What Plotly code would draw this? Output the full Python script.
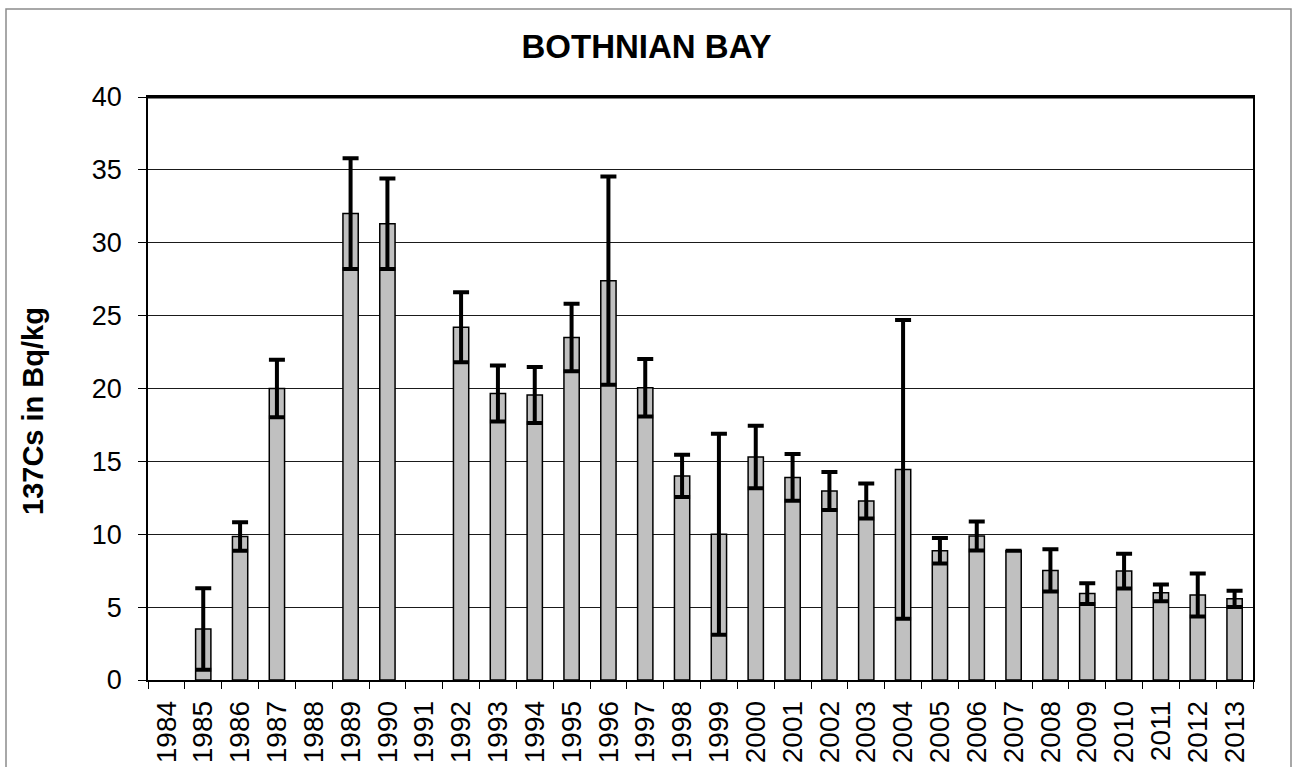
import plotly.graph_objects as go

# 137Cs activity by year, with symmetric uncertainty (None = no sample)
years = [str(y) for y in range(1984, 2014)]
values = [None, 3.5, 9.85, 20.0, None, 32.0, 31.3, None, 24.2, 19.65,
          19.55, 23.5, 27.4, 20.05, 14.0, 10.0, 15.3, 13.9, 12.97, 12.28,
          14.45, 8.87, 9.88, 8.87, 7.52, 5.93, 7.47, 5.98, 5.83, 5.57]
errors = [None, 2.8, 0.98, 1.98, None, 3.8, 3.1, None, 2.4, 1.92,
          1.92, 2.32, 7.15, 1.97, 1.45, 6.9, 2.15, 1.6, 1.3, 1.2,
          10.25, 0.87, 1.0, None, 1.45, 0.71, 1.2, 0.58, 1.48, 0.56]

y_ticks = list(range(0, 41, 5))

FONT = "Liberation Sans, Arial, sans-serif"

fig = go.Figure(
    go.Bar(
        x=years,
        y=values,
        marker=dict(color="#C0C0C0", line=dict(color="#000000", width=1.5)),
        error_y=dict(type="data", array=errors, symmetric=True, visible=True,
                     color="#000000", thickness=4, width=8),
    )
)

fig.update_layout(
    width=1293,
    height=767,
    margin=dict(l=148, r=40, t=97, b=87, autoexpand=False),
    paper_bgcolor="white",
    plot_bgcolor="white",
    bargap=0.585,
    showlegend=False,
    font=dict(family=FONT, color="#000000"),
    title=dict(text="<b>BOTHNIAN BAY</b>", font=dict(size=33, family=FONT, color="#000000"),
               x=0.5, xref="container", xanchor="center",
               y=1 - 46.5 / 767, yref="container", yanchor="middle"),
)

fig.update_yaxes(
    range=[0, 40],
    tickvals=y_ticks,
    automargin=False,
    showgrid=True, gridcolor="#1a1a1a", gridwidth=1,
    showline=True, linecolor="#000000", linewidth=1.5, mirror=True,
    ticks="outside", ticklen=8, tickcolor="#000000", tickwidth=1,
    tickfont=dict(size=27, family=FONT, color="#000000"),
    ticklabelstandoff=11,
    zeroline=False,
)

fig.update_xaxes(
    type="category",
    categoryorder="array", categoryarray=years,
    automargin=False,
    tickangle=-90,
    tickson="boundaries",
    ticks="outside", ticklen=7, tickcolor="#000000", tickwidth=1,
    showline=True, linecolor="#000000", linewidth=1.5, mirror=True,
    showgrid=False,
    tickfont=dict(size=28, family=FONT, color="#000000"),
    ticklabelstandoff=8,
)

# y-axis title
fig.add_annotation(
    text="<b>137Cs in Bq/kg</b>", textangle=-90,
    xref="paper", yref="paper", x=(33 - 148) / 1105, y=(680 - 411) / 583,
    xanchor="center", yanchor="middle", showarrow=False,
    font=dict(size=29, family=FONT, color="#000000"),
)

# thicker frame line along the top of the plot area
fig.add_shape(type="line", xref="paper", yref="paper", x0=0, x1=1, y0=1, y1=1,
              line=dict(color="#000000", width=3))

# outer chart frame
fig.add_shape(type="rect", xref="paper", yref="paper",
              x0=(6 - 148) / 1105, x1=(1291 - 148) / 1105,
              y0=(680 - 820) / 583, y1=(680 - 9) / 583,
              line=dict(color="#8c8c8c", width=1.5), fillcolor="rgba(0,0,0,0)")

fig.write_html("out.html")
